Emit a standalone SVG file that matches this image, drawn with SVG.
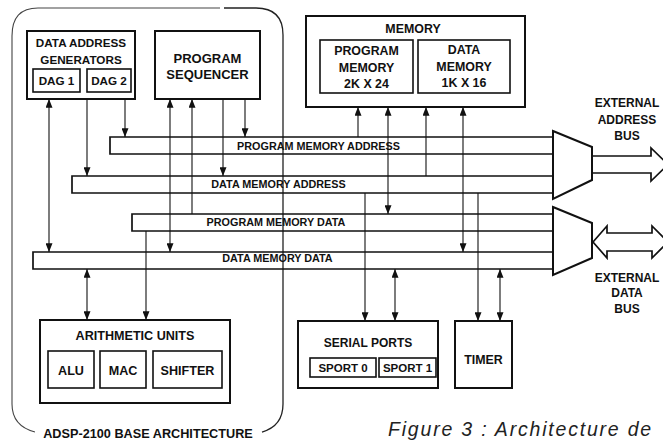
<svg xmlns="http://www.w3.org/2000/svg" width="663" height="441" viewBox="0 0 663 441">
<style>
  text { font-family: "Liberation Sans", Arial, sans-serif; font-weight: bold; fill: #111; text-anchor: middle; }
  .box { fill: none; stroke: #111; stroke-width: 2; }
  .sub { fill: none; stroke: #111; stroke-width: 1.6; }
  .bus { fill: none; stroke: #111; stroke-width: 1.7; }
  .wire { fill: none; stroke: #111; stroke-width: 1.1; }
  .t12 { font-size: 12.4px; }
  .t11 { font-size: 11.7px; }
  .tb { font-size: 10.8px; }
  .cap { font-family: "Liberation Sans", Arial, sans-serif; font-weight: normal; font-style: italic; font-size: 19.5px; letter-spacing: 1.8px; text-anchor: start; fill: #222; }
</style>
<defs>
  <marker id="ah" viewBox="0 0 10 8" refX="10" refY="4" markerWidth="10" markerHeight="7" markerUnits="userSpaceOnUse" orient="auto-start-reverse">
    <path d="M0,0 L10,4 L0,8 z" fill="#111"/>
  </marker>
</defs>
<rect width="663" height="441" fill="#fff"/>

<g id="base-architecture">
  <path d="M220,8 H38 Q12,8 12,36 V404 Q12,426 35,432" fill="none" stroke="#444" stroke-width="1.1"/>
  <path d="M224,8 H256 Q283,8 283,35 V404 Q283,426 262,432" fill="none" stroke="#222" stroke-width="1.3"/>
  <text class="t12" x="148" y="438" style="font-size:12.7px">ADSP-2100 BASE ARCHITECTURE</text>
</g>

<g id="dag">
  <rect class="box" x="27" y="31" width="108" height="68"/>
  <text class="t11" x="81" y="47">DATA ADDRESS</text>
  <text class="t11" x="81" y="64">GENERATORS</text>
  <rect class="sub" x="33" y="69" width="47" height="23"/>
  <text class="t11" x="56.5" y="85">DAG 1</text>
  <rect class="sub" x="87" y="69" width="44" height="23"/>
  <text class="t11" x="109" y="85">DAG 2</text>
</g>

<g id="program-sequencer">
  <rect class="box" x="155" y="31" width="105" height="68"/>
  <text class="t12" x="207.5" y="63" style="font-size:13px">PROGRAM</text>
  <text class="t12" x="207.5" y="79" style="font-size:13px">SEQUENCER</text>
</g>

<g id="memory">
  <rect class="box" x="306" y="16" width="219" height="91"/>
  <text class="t12" x="413" y="33">MEMORY</text>
  <rect class="sub" x="320" y="40" width="93" height="53"/>
  <text class="t12" x="366.5" y="55">PROGRAM</text>
  <text class="t12" x="366.5" y="72">MEMORY</text>
  <text class="t12" x="366.5" y="88">2K X 24</text>
  <rect class="sub" x="418" y="40" width="92" height="53"/>
  <text class="t12" x="464" y="54">DATA</text>
  <text class="t12" x="464" y="71">MEMORY</text>
  <text class="t12" x="464" y="87">1K X 16</text>
</g>

<g id="arithmetic-units">
  <rect class="box" x="40" y="320" width="190" height="83"/>
  <text class="t12" x="135" y="340" style="font-size:12.6px">ARITHMETIC UNITS</text>
  <rect class="sub" x="48" y="351" width="46" height="37"/>
  <text class="t12" x="71" y="375" style="font-size:12.6px">ALU</text>
  <rect class="sub" x="100" y="351" width="46" height="37"/>
  <text class="t12" x="123" y="375" style="font-size:12.6px">MAC</text>
  <rect class="sub" x="153" y="351" width="69" height="37"/>
  <text class="t12" x="187.5" y="375" style="font-size:12.6px">SHIFTER</text>
</g>

<g id="serial-ports">
  <rect class="box" x="298" y="321" width="140" height="67"/>
  <text class="t12" x="368" y="347" style="font-size:12px">SERIAL PORTS</text>
  <rect class="sub" x="310" y="358" width="66" height="19"/>
  <text class="t12" x="343" y="372" style="font-size:11.5px">SPORT 0</text>
  <rect class="sub" x="379" y="358" width="57" height="19"/>
  <text class="t12" x="407.5" y="372" style="font-size:11.5px">SPORT 1</text>
</g>

<g id="timer">
  <rect class="box" x="455" y="321" width="57" height="67"/>
  <text class="t12" x="483.5" y="364">TIMER</text>
</g>

<g id="mux-address">
  <polygon class="box" points="553,131 592,147 592,180 553,199" fill="#fff"/>
</g>
<g id="mux-data">
  <polygon class="box" points="553,207 592,223 592,258 553,275" fill="#fff"/>
</g>

<g id="external-address-bus">
  <path class="bus" d="M592,156 H651 V148 L668,164.5 L651,181 V173 H592" stroke-width="1.8"/>
  <text class="t12" x="627" y="107" style="font-size:12px">EXTERNAL</text>
  <text class="t12" x="627" y="124" style="font-size:12px">ADDRESS</text>
  <text class="t12" x="627" y="140" style="font-size:12px">BUS</text>
</g>

<g id="external-data-bus">
  <path class="bus" d="M593,242 L607,226 V233 H652 V226 L668,242 L652,258 V251 H607 V258 Z" stroke-width="1.8"/>
  <text class="t12" x="627" y="282" style="font-size:12px">EXTERNAL</text>
  <text class="t12" x="627" y="297" style="font-size:12px">DATA</text>
  <text class="t12" x="627" y="313" style="font-size:12px">BUS</text>
</g>

<g id="buses">
  <path class="bus" d="M553,137 H110 V154 H553"/>
  <text class="tb" x="318.5" y="150">PROGRAM MEMORY ADDRESS</text>
  <path class="bus" d="M553,176 H72 V193 H553"/>
  <text class="tb" x="278.5" y="188">DATA MEMORY ADDRESS</text>
  <path class="bus" d="M553,214 H132 V231 H553"/>
  <text class="tb" x="276" y="226">PROGRAM MEMORY DATA</text>
  <path class="bus" d="M553,252 H33 V269 H553"/>
  <text class="tb" x="277.5" y="262">DATA MEMORY DATA</text>
</g>

<g id="connectors">
  <line class="wire" x1="49" y1="99" x2="49" y2="252" marker-start="url(#ah)" marker-end="url(#ah)"/>
  <line class="wire" x1="87" y1="99" x2="87" y2="176" marker-end="url(#ah)"/>
  <line class="wire" x1="125" y1="99" x2="125" y2="137" marker-end="url(#ah)"/>
  <line class="wire" x1="170" y1="99" x2="170" y2="252" marker-start="url(#ah)" marker-end="url(#ah)"/>
  <line class="wire" x1="192" y1="99" x2="192" y2="214" marker-start="url(#ah)"/>
  <line class="wire" x1="223" y1="99" x2="223" y2="176" marker-end="url(#ah)"/>
  <line class="wire" x1="245" y1="99" x2="245" y2="137" marker-end="url(#ah)"/>
  <line class="wire" x1="358" y1="107" x2="358" y2="137" marker-start="url(#ah)"/>
  <line class="wire" x1="388" y1="107" x2="388" y2="214" marker-start="url(#ah)" marker-end="url(#ah)"/>
  <line class="wire" x1="426" y1="107" x2="426" y2="176" marker-start="url(#ah)"/>
  <line class="wire" x1="463" y1="107" x2="463" y2="252" marker-start="url(#ah)" marker-end="url(#ah)"/>
  <line class="wire" x1="365" y1="193" x2="365" y2="321" marker-end="url(#ah)"/>
  <line class="wire" x1="395" y1="269" x2="395" y2="321" marker-start="url(#ah)" marker-end="url(#ah)"/>
  <line class="wire" x1="478" y1="193" x2="478" y2="321" marker-end="url(#ah)"/>
  <line class="wire" x1="500" y1="269" x2="500" y2="321" marker-start="url(#ah)" marker-end="url(#ah)"/>
  <line class="wire" x1="146" y1="231" x2="146" y2="320" marker-end="url(#ah)"/>
  <line class="wire" x1="87" y1="269" x2="87" y2="320" marker-start="url(#ah)" marker-end="url(#ah)"/>
</g>

<text class="cap" x="388" y="436">Figure 3 : Architecture de</text>
</svg>
